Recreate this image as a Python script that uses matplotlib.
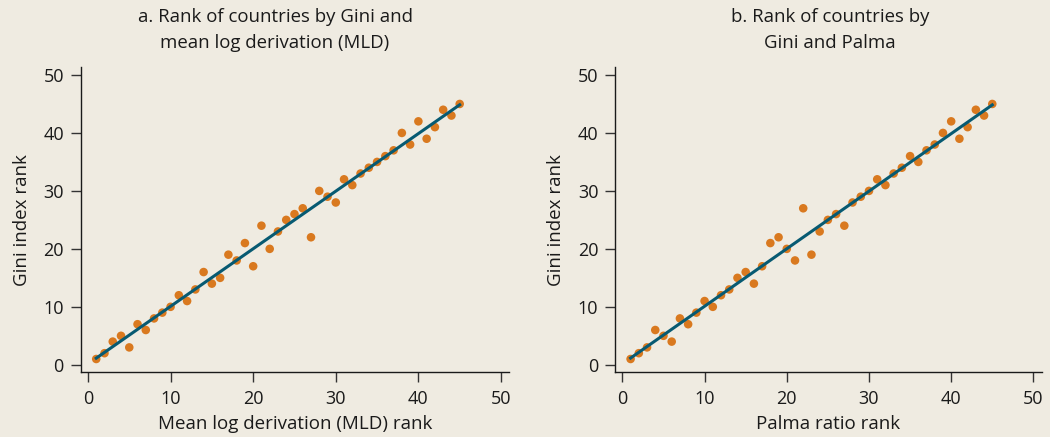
import numpy as np
import matplotlib
matplotlib.use('Agg')
import matplotlib.pyplot as plt

# Panel a: MLD rank vs Gini rank
mld_rank = list(range(1, 46))
gini_rank_a = [1, 2, 4, 5, 3, 7, 6, 8, 9, 10, 12, 11, 13, 16, 14, 15, 19, 18, 21, 17,
               24, 20, 23, 25, 26, 27, 22, 30, 29, 28, 32, 31, 33, 34, 35, 36, 37, 40, 38, 42,
               39, 41, 44, 43, 45]

# Panel b: Palma rank vs Gini rank
palma_rank = list(range(1, 46))
gini_rank_b = [1, 2, 3, 6, 5, 4, 8, 7, 9, 11, 10, 12, 13, 15, 16, 14, 17, 21, 22, 20,
               18, 27, 19, 23, 25, 26, 24, 28, 29, 30, 32, 31, 33, 34, 36, 35, 37, 38, 40, 42,
               39, 41, 44, 43, 45]

ticks = [0, 10, 20, 30, 40, 50]

bg = '#efebe1'
dot_color = '#d9791f'
line_color = '#075a72'
text_color = '#1a1a1a'

plt.rcParams['font.family'] = ['Open Sans', 'DejaVu Sans']

fig = plt.figure(figsize=(10.5, 4.37), dpi=100, facecolor=bg)
ax1 = fig.add_axes([0.0767, 0.148, 0.4083, 0.699])
ax2 = fig.add_axes([0.5857, 0.148, 0.4063, 0.699])


def draw_panel(ax, x, y, xlabel):
    ax.set_facecolor(bg)
    ax.scatter(x, y, s=38, color=dot_color, edgecolors='none', zorder=2)
    # least-squares line through the ranks
    coef = np.polyfit(x, y, 1)
    xs = np.array([min(x), max(x)])
    ax.plot(xs, coef[0] * xs + coef[1], color=line_color, lw=2.2, zorder=3)
    ax.set_xlim(-0.9, 51)
    ax.set_ylim(-1.3, 51.4)
    ax.set_xticks(ticks)
    ax.set_yticks(ticks)
    for s in ['top', 'right']:
        ax.spines[s].set_visible(False)
    for s in ['left', 'bottom']:
        ax.spines[s].set_color(text_color)
        ax.spines[s].set_linewidth(1.0)
    ax.tick_params(direction='out', length=7, width=1.0, color='#333333',
                   labelsize=13, labelcolor=text_color)
    ax.tick_params(axis='x', pad=6)
    ax.tick_params(axis='y', pad=5)
    ax.set_xlabel(xlabel, fontsize=13.5, color=text_color, labelpad=5)
    ax.set_ylabel('Gini index rank', fontsize=13.5, color=text_color, labelpad=9)


draw_panel(ax1, mld_rank, gini_rank_a, 'Mean log derivation (MLD) rank')
draw_panel(ax2, palma_rank, gini_rank_b, 'Palma ratio rank')

fig.text(275 / 1050, 1 - 30 / 437, 'a. Rank of countries by Gini and\nmean log derivation (MLD)',
         ha='center', va='center', fontsize=13.4, color=text_color, linespacing=1.5)
fig.text(830 / 1050, 1 - 30 / 437, 'b. Rank of countries by\nGini and Palma',
         ha='center', va='center', fontsize=13.4, color=text_color, linespacing=1.5)

fig.savefig('out.png', dpi=100, facecolor=bg)
